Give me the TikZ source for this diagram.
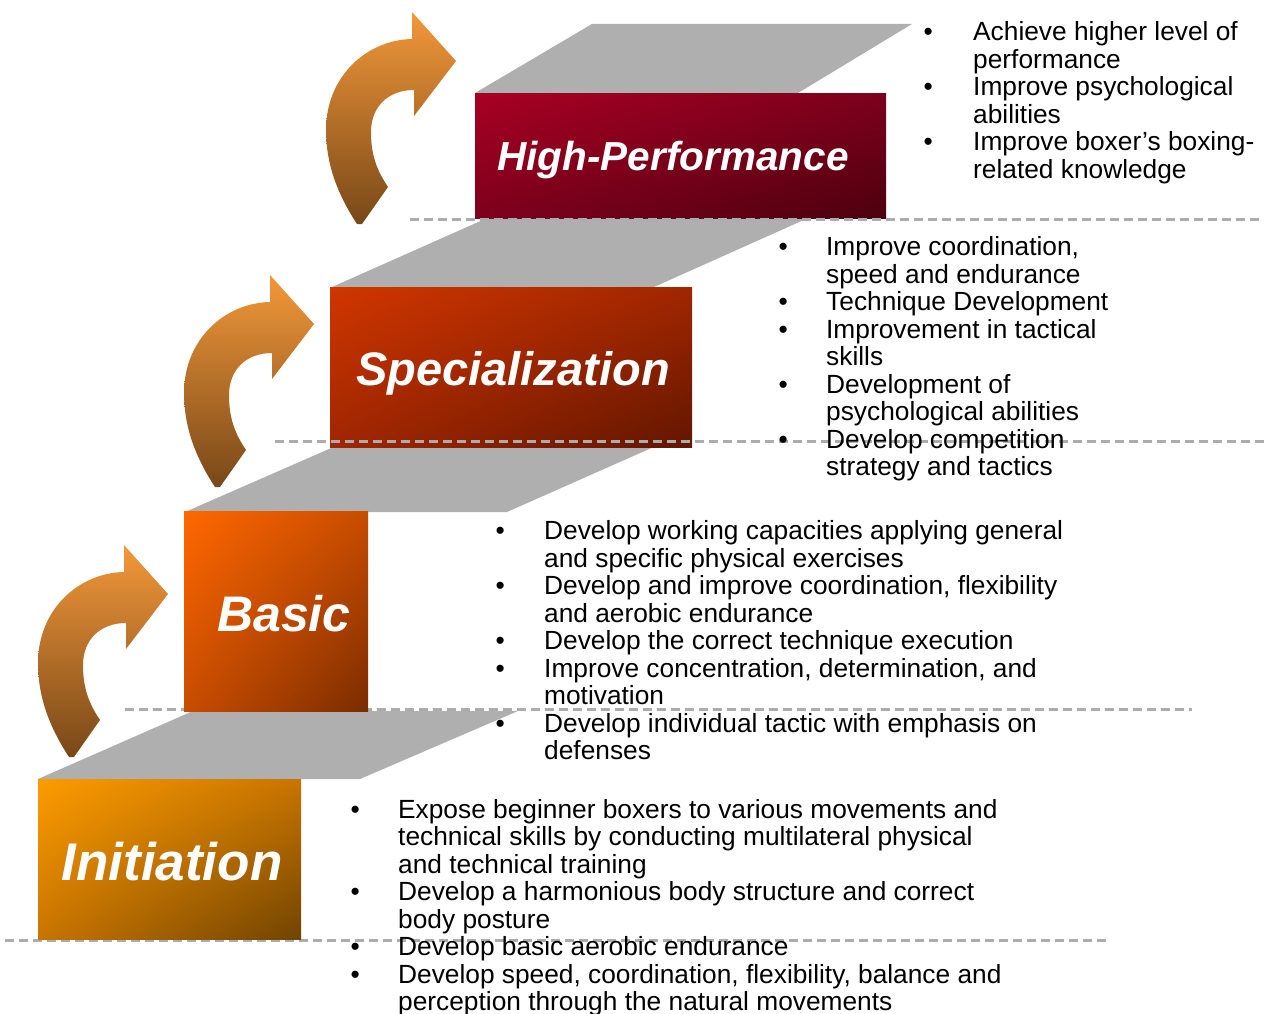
\documentclass[tikz,border=0pt]{standalone}
\usepackage{fontspec}
\setmainfont{Liberation Sans}
\usetikzlibrary{shadings}
\definecolor{stairgrey}{RGB}{175,175,175}
\definecolor{dashgrey}{RGB}{172,172,172}
\definecolor{arrtop}{RGB}{243,152,58}
\definecolor{arrbot}{RGB}{120,72,24}
\definecolor{hpA}{RGB}{168,0,36}\definecolor{hpB}{RGB}{125,0,27}\definecolor{hpC}{RGB}{76,0,14}
\definecolor{spA}{RGB}{208,54,0}\definecolor{spB}{RGB}{160,38,0}\definecolor{spC}{RGB}{98,22,0}
\definecolor{baA}{RGB}{255,104,0}\definecolor{baB}{RGB}{200,76,0}\definecolor{baC}{RGB}{122,44,0}
\definecolor{inA}{RGB}{252,156,0}\definecolor{inB}{RGB}{200,116,0}\definecolor{inC}{RGB}{112,68,0}
\tikzset{
  stair/.style={fill=stairgrey, draw=none},
  sepline/.style={draw=dashgrey, line width=3pt, dash pattern=on 9pt off 5pt},
  lvlbox/.style={draw=none, inner sep=0, anchor=north west},
  lvltext/.style={text=white, inner sep=0, font=\bfseries\itshape\fontsize{#1}{#1}\selectfont},
  blist/.style={anchor=north west, inner sep=0, font=\fontsize{26.3}{27.5}\selectfont},
  turn/.style={top color=arrtop, bottom color=arrbot, draw=none},
  turnarrow/.pic={
    \shade[turn] (86,0) -- (130,49) -- (88,104) -- (88,78)
      .. controls (62,78) and (45,95) .. (45,120)
      .. controls (45,145) and (52,160) .. (62,175)
      -- (36,212) -- (31,212)
      .. controls (10,180) and (0,150) .. (0,118)
      .. controls (0,65) and (40,28) .. (86,27) -- cycle;
  }
}
\newcommand{\bl}{\textbullet}
\begin{document}
\begin{tikzpicture}[x=1pt,y=-1pt]
\useasboundingbox (0,0) rectangle (1264,1014);
% stair treads
\fill[stair] (475,93) -- (592,24) -- (912,24) -- (798,93) -- cycle;
\fill[stair] (332,287) -- (485,219) -- (806,219) -- (654,287) -- cycle;
\fill[stair] (185,512) -- (345,442) -- (665,442) -- (507,512) -- cycle;
\fill[stair] (38,779) -- (193,711) -- (518,711) -- (360,779) -- cycle;
% lower dashed lines
\draw[sepline] (125,709) -- (1192,709);
\draw[sepline] (5,940) -- (1110,940);
% level boxes
\node[lvlbox, minimum width=411pt, minimum height=125pt, upper left=hpA, upper right=hpB, lower left=hpB, lower right=hpC] (hpbox) at (475,93) {};
\node[lvlbox, minimum width=362pt, minimum height=160pt, upper left=spA, upper right=spB, lower left=spB, lower right=spC] (spbox) at (330,287) {};
\node[lvlbox, minimum width=184pt, minimum height=200pt, upper left=baA, upper right=baB, lower left=baB, lower right=baC] (babox) at (184,511) {};
\node[lvlbox, minimum width=263pt, minimum height=160pt, upper left=inA, upper right=inB, lower left=inB, lower right=inC] (inbox) at (38,779) {};
% upper dashed lines
\draw[sepline] (410,219) -- (1264,219);
\draw[sepline] (275,441) -- (1264,441);
% turning arrows
\pic at (326,12) {turnarrow};
\pic at (184,275) {turnarrow};
\pic at (38,545) {turnarrow};
% level labels
\node[lvltext=40.5] (hplab) at (673,160) {High-Performance};
\node[lvltext=47] (splab) at (513,373) {Specialization};
\node[lvltext=50] (balab) at (284,614) {Basic};
\node[lvltext=53] (inlab) at (172,862) {Initiation};
% bullet lists
\node[blist] (hplist) at (923.5,21.25) {\begin{tabular}{@{}p{49.5pt}@{}l@{}}
\bl & Achieve higher level of\\
    & performance\\
\bl & Improve psychological\\
    & abilities\\
\bl & Improve boxer’s boxing-\\
    & related knowledge
\end{tabular}};
\node[blist] (splist) at (778.5,236.25) {\begin{tabular}{@{}p{47.5pt}@{}l@{}}
\bl & Improve coordination,\\
    & speed and endurance\\
\bl & Technique Development\\
\bl & Improvement in tactical\\
    & skills\\
\bl & Development of\\
    & psychological abilities\\
\bl & Develop competition\\
    & strategy and tactics
\end{tabular}};
\node[blist] (balist) at (495.5,520.25) {\begin{tabular}{@{}p{48.5pt}@{}l@{}}
\bl & Develop working capacities applying general\\
    & and specific physical exercises\\
\bl & Develop and improve coordination, flexibility\\
    & and aerobic endurance\\
\bl & Develop the correct technique execution\\
\bl & Improve concentration, determination, and\\
    & motivation\\
\bl & Develop individual tactic with emphasis on\\
    & defenses
\end{tabular}};
\node[blist] (inlist) at (350.5,799) {\begin{tabular}{@{}p{47.5pt}@{}l@{}}
\bl & Expose beginner boxers to various movements and\\
    & technical skills by conducting multilateral physical\\
    & and technical training\\
\bl & Develop a harmonious body structure and correct\\
    & body posture\\
\bl & Develop basic aerobic endurance\\
\bl & Develop speed, coordination, flexibility, balance and\\
    & perception through the natural movements
\end{tabular}};
\end{tikzpicture}
\end{document}
